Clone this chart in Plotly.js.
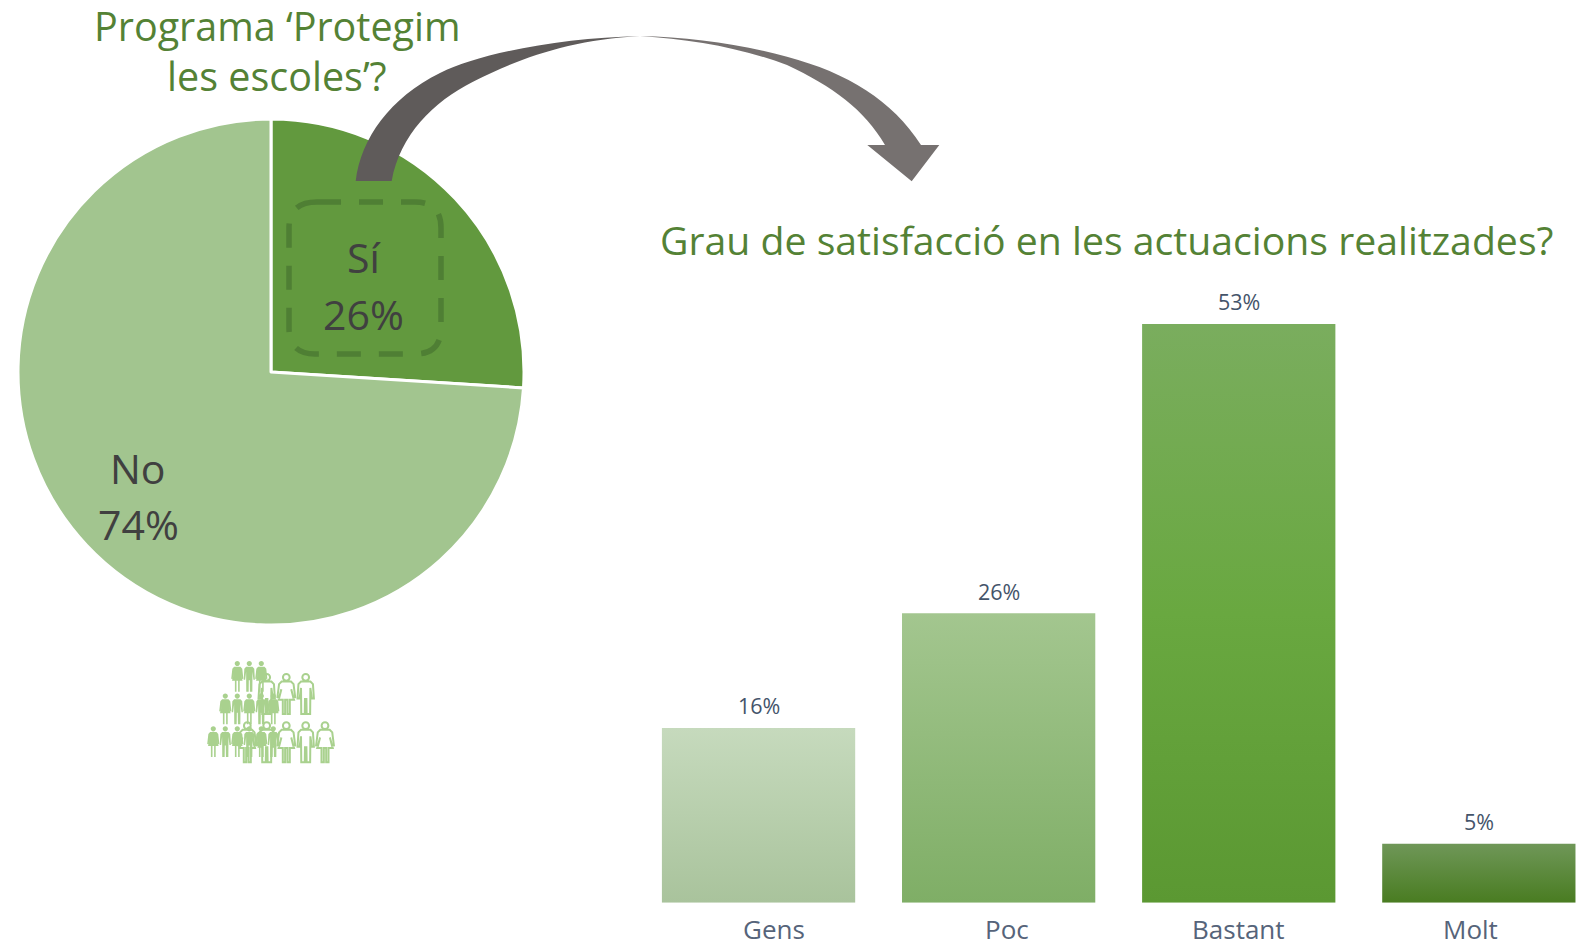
<!DOCTYPE html>
<html><head><meta charset="utf-8">
<script src="https://cdn.plot.ly/plotly-3.0.1.min.js"></script>
<style>html,body{margin:0;padding:0;background:#fff;overflow:hidden}#chart{width:1578px;height:947px}</style>
</head><body><div id="chart"></div>
<script>
const W = 1578, H = 947;
const pieLabels = ['Sí', 'No'];
const pieValues = [26, 74];
const pieColors = ['#62993e', '#a2c58f'];
const barCategories = ['Gens', 'Poc', 'Bastant', 'Molt'];
const barValues = [16, 26.5, 53, 5.4];
const barLabels = ['16%', '26%', '53%', '5%'];
const categoryShifts = [15, 8, 0, -8];
const barGradients = [
  [['0%', '#c6dabd'], ['100%', '#a9c39c']],
  [['0%', '#a3c68f'], ['100%', '#7fae66']],
  [['0%', '#7aad5e'], ['50%', '#69a840'], ['100%', '#5b9832']],
  [['0%', '#6f9758'], ['100%', '#497c21']]
];
const FONT = '"Open Sans", "Noto Sans", sans-serif';
const GREEN = '#548235', DARK = '#404040', SLATE = '#44546a', ICON = '#a9d18e';

const px = (x, y) => (x / W).toFixed(5) + ',' + (1 - y / H).toFixed(5);
const fx = x => x / W, fy = y => 1 - y / H;

function pathFrom(cmds) {
  return cmds.map(c => c[0] + (c.length > 1 ? ' ' + c.slice(1).map(p => px(p[0], p[1])).join(' ') : '')).join(' ');
}
function circle(cx, cy, r) {
  const k = 0.5523 * r;
  return [['M', [cx + r, cy]],
    ['C', [cx + r, cy + k], [cx + k, cy + r], [cx, cy + r]],
    ['C', [cx - k, cy + r], [cx - r, cy + k], [cx - r, cy]],
    ['C', [cx - r, cy - k], [cx - k, cy - r], [cx, cy - r]],
    ['C', [cx + k, cy - r], [cx + r, cy - k], [cx + r, cy]], ['Z']];
}
function person(cx, top, s, sx, female) {
  const m = (dx, dy) => [cx + dx * s * sx, top + dy * s];
  const head = circle(cx, top + 2.8 * s, 2.6 * s);
  const half = female
    ? [[4, 6], [6.2, 8], [7.6, 18], [6, 18.3], [4.2, 12], [6.6, 20], [3, 20], [3, 31], [1, 31], [1, 20], [0, 20]]
    : [[4, 6], [6.2, 8], [7, 19], [5.2, 19], [4, 11], [3.8, 31], [0.8, 31], [0.6, 19.5], [0, 19.5]];
  const right = half.map(p => m(p[0], p[1]));
  const left = half.slice(0, -1).reverse().map(p => m(-p[0], p[1]));
  const pts = right.concat(left);
  const body = pts.map((p, i) => [i ? 'L' : 'M', p]).concat([['Z']]);
  return pathFrom(head.concat(body));
}
const shapes = [];

// curved arrow
shapes.push({
  type: 'path', xref: 'paper', yref: 'paper', line: {width: 0}, fillcolor: '#6a6665',
  path: pathFrom([
    ['M', [355.7, 181]],
    ['C', [361, 138], [390, 98], [440, 73]],
    ['C', [480, 53], [560, 38], [640, 36]],
    ['C', [690, 37], [740, 44], [787, 56.7]],
    ['C', [848, 73], [892, 100], [921, 145]],
    ['L', [939.3, 145]], ['L', [911.7, 181.3]], ['L', [867.3, 145]], ['L', [885, 145]],
    ['C', [865, 110], [832, 86], [787, 65]],
    ['C', [742, 48], [690, 39], [640, 36]],
    ['C', [570, 40], [520, 58], [473, 81.7]],
    ['C', [433, 102], [400, 135], [391.7, 181]], ['Z']
  ])
});
// dashed rounded box
const bx0 = 289, bx1 = 441, by0 = 202, by1 = 354, br = 26;
shapes.push({
  type: 'path', xref: 'paper', yref: 'paper', fillcolor: 'rgba(0,0,0,0)',
  line: {color: '#4f7f34', width: 5.5, dash: '24px,18px'},
  path: pathFrom([
    ['M', [bx0 + 28, by0]], ['L', [bx1 - br, by0]], ['Q', [bx1, by0], [bx1, by0 + br]],
    ['L', [bx1, by1 - br]], ['Q', [bx1, by1], [bx1 - br, by1]],
    ['L', [bx0 + br, by1]], ['Q', [bx0, by1], [bx0, by1 - br]],
    ['L', [bx0, by0 + br]], ['Q', [bx0, by0], [bx0 + 28, by0]], ['Z']
  ])
});
// people pictogram
const filledRows = [
  {top: 660.7, xs: [237.3, 249.3, 261.3]},
  {top: 693.3, xs: [225.3, 237.3, 249.3, 261.3, 273.3]},
  {top: 726, xs: [213.3, 225.3, 237.3, 249.3, 261.3, 273.3]}
];
const outlineRows = [
  {top: 672.7, xs: [266.7, 286.3, 305.7], f: [0, 1, 0]},
  {top: 721, xs: [247.3, 266.7, 286.3, 305.7, 325], f: [1, 0, 1, 0, 1]}
];
outlineRows.forEach(r => r.xs.forEach((x, i) => shapes.push({
  type: 'path', xref: 'paper', yref: 'paper', fillcolor: 'rgba(0,0,0,0)',
  line: {color: ICON, width: 2}, path: person(x, r.top + 1, 1.3, 0.9, !!r.f[i])
})));
filledRows.forEach(r => r.xs.forEach((x, i) => shapes.push({
  type: 'path', xref: 'paper', yref: 'paper', fillcolor: ICON, line: {width: 0},
  path: person(x, r.top, 1, 0.8, i % 2 === 0)
})));

function note(text, x, y, size, color) {
  return {text, x: fx(x), y: fy(y), xref: 'paper', yref: 'paper', showarrow: false,
    xanchor: 'center', yanchor: 'middle', align: 'center', font: {family: FONT, size, color}};
}
const annotations = [
  note('Programa ‘Protegim', 277, 26, 39.5, GREEN),
  note('les escoles’?', 277, 76, 39.5, GREEN),
  note('Grau de satisfacció en les actuacions realitzades?', 1106, 239, 39.2, GREEN),
  note(pieLabels[0], 363, 257, 41, DARK),
  note(pieValues[0] + '%', 363, 314, 41, DARK),
  note(pieLabels[1], 138, 468, 41, DARK),
  note(pieValues[1] + '%', 138, 524, 41, DARK)
];
barCategories.forEach((c, i) => {
  annotations.push({text: barLabels[i], x: c, y: barValues[i], xref: 'x', yref: 'y', showarrow: false,
    xanchor: 'center', yanchor: 'middle', yshift: 22, font: {family: FONT, size: 21.5, color: SLATE}});
  annotations.push({text: c, x: c, y: fy(928.5), xref: 'x', yref: 'paper', showarrow: false, xshift: categoryShifts[i],
    xanchor: 'center', yanchor: 'middle', font: {family: FONT, size: 26, color: '#56647a'}});
});

const baseY = 902.7, topY = 290, perUnit = 10.92;
const data = [
  {type: 'pie', labels: pieLabels, values: pieValues, sort: false, direction: 'clockwise', rotation: 0,
   marker: {colors: pieColors, line: {color: '#ffffff', width: 3}}, textinfo: 'none', hoverinfo: 'none',
   showlegend: false, domain: {x: [fx(18), fx(524)], y: [fy(625), fy(119)]}},
  {type: 'bar', x: barCategories, y: barValues, hoverinfo: 'none', showlegend: false,
   marker: {color: barGradients.map(g => g[0][1]), line: {width: 0}}}
];
const layout = {
  width: W, height: H, margin: {l: 0, r: 0, t: 0, b: 0}, paper_bgcolor: '#fff', plot_bgcolor: 'rgba(0,0,0,0)',
  showlegend: false, bargap: 0.195, shapes, annotations,
  xaxis: {domain: [fx(638.5), 1], range: [-0.5, 3.413], type: 'category', showgrid: false, zeroline: false,
    showline: false, ticks: '', showticklabels: false, fixedrange: true},
  yaxis: {domain: [fy(baseY), fy(topY)], range: [0, (baseY - topY) / perUnit], visible: false, fixedrange: true}
};
Plotly.newPlot('chart', data, layout, {displayModeBar: false, staticPlot: true}).then(gd => {
  const NS = 'http://www.w3.org/2000/svg';
  const svg = gd.querySelector('.main-svg');
  let defs = svg.querySelector('defs');
  if (!defs) { defs = document.createElementNS(NS, 'defs'); svg.insertBefore(defs, svg.firstChild); }
  function grad(id, stops, x2, y2) {
    const g = document.createElementNS(NS, 'linearGradient');
    g.setAttribute('id', id);
    g.setAttribute('x1', '0'); g.setAttribute('y1', '0');
    g.setAttribute('x2', x2); g.setAttribute('y2', y2);
    stops.forEach(s => {
      const st = document.createElementNS(NS, 'stop');
      st.setAttribute('offset', s[0]); st.setAttribute('stop-color', s[1]);
      g.appendChild(st);
    });
    defs.appendChild(g);
  }
  gd.querySelectorAll('.barlayer .point path').forEach((p, i) => {
    grad('barGrad' + i, barGradients[i], '0', '1');
    p.style.fill = 'url(#barGrad' + i + ')';
  });
  grad('arrowGrad', [['0%', '#5f5b5a'], ['47%', '#5f5b5a'], ['50%', '#767170'], ['100%', '#767170']], '1', '0');
  const arrow = gd.querySelector('.shapelayer path[data-index="0"]');
  if (arrow) arrow.style.fill = 'url(#arrowGrad)';
});
</script></body></html>
